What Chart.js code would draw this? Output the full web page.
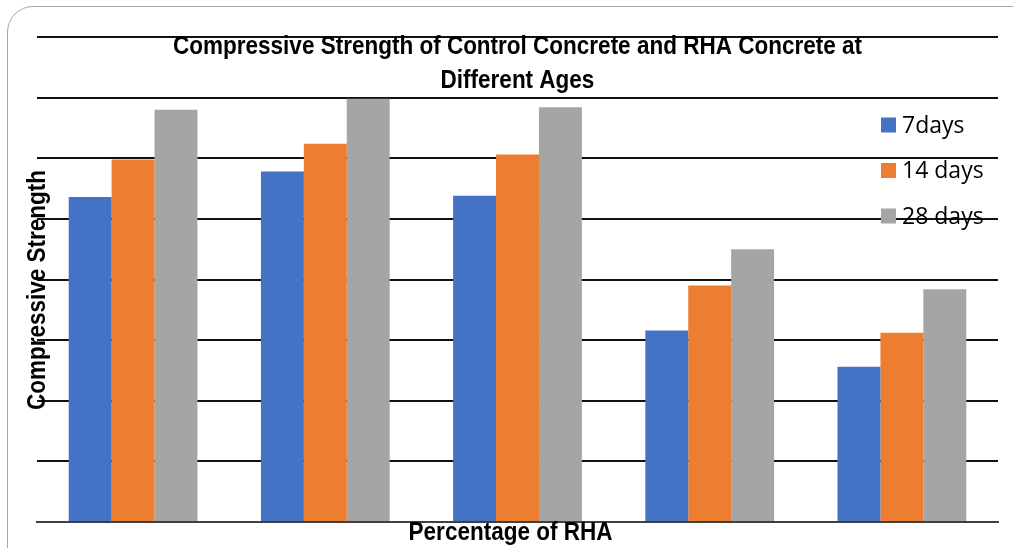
<!DOCTYPE html>
<html>
<head>
<meta charset="utf-8">
<script src="https://cdn.jsdelivr.net/npm/chart.js@4.4.0/dist/chart.umd.min.js"></script>
<style>
  body { margin: 0; background: #fff; }
  #wrap { position: relative; width: 1013px; height: 548px; overflow: hidden; }
  #frame { position: absolute; left: 7px; top: 6px; width: 1040px; height: 570px;
           border: 1px solid #a6a6a6; border-radius: 26px; pointer-events: none; }
</style>
</head>
<body>
<div id="wrap">
  <canvas id="myChart" width="1013" height="548"></canvas>
  <div id="frame"></div>
</div>
<script>
// values (MPa, axis runs 0..40)
const categories = ['0%', '5%', '10%', '15%', '20%'];
const days7 = [26.8, 28.9, 26.9, 15.8, 12.8];
const days14 = [29.9, 31.2, 30.3, 19.5, 15.6];
const days28 = [34.0, 34.9, 34.2, 22.5, 19.2];
const seriesNames = ['7days', '14 days', '28 days'];
const titleLines = ['Compressive Strength of Control Concrete and RHA Concrete at', 'Different Ages'];
const yTitle = 'Compressive Strength';
const xTitle = 'Percentage of RHA';

const boldFont = "bold 25px 'Liberation Sans', sans-serif";
const squeeze = 0.9; // the original uses a condensed bold face

// draws text a bit narrower, centred on x,y
function narrowText(c, text, x, y) {
    c.save();
    c.translate(x, y);
    c.scale(squeeze, 1);
    c.fillText(text, 0, 0);
    c.restore();
}

// title, axis titles and legend sit inside the plot like in the original
const overlayText = {
    id: 'overlayText',
    afterDraw(chart) {
        const c = chart.ctx;
        const area = chart.chartArea;
        c.save();
        c.fillStyle = '#000';
        c.font = boldFont;
        c.textAlign = 'center';
        c.textBaseline = 'middle';
        const cx = (area.left + area.right) / 2;
        narrowText(c, titleLines[0], cx, 47);
        narrowText(c, titleLines[1], cx, 81);
        narrowText(c, xTitle, cx - 7, 533);

        c.save();
        c.translate(38, 290);
        c.rotate(-Math.PI / 2);
        narrowText(c, yTitle, 0, 0);
        c.restore();

        // legend
        c.font = "23px 'Open Sans', sans-serif";
        c.textAlign = 'left';
        chart.data.datasets.forEach((ds, i) => {
            const y = 125 + i * 45.5;
            c.fillStyle = ds.backgroundColor;
            c.fillRect(881, y - 7.5, 15, 15);
            c.fillStyle = '#000';
            c.fillText(ds.label, 902, y + 1);
        });
        c.restore();
    }
};

const ctx = document.getElementById('myChart').getContext('2d');
const myChart = new Chart(ctx, {
    type: 'bar',
    data: {
        labels: categories,
        datasets: [
            { label: seriesNames[0], data: days7, backgroundColor: '#4472C4' },
            { label: seriesNames[1], data: days14, backgroundColor: '#ED7D31' },
            { label: seriesNames[2], data: days28, backgroundColor: '#A5A5A5' }
        ]
    },
    options: {
        responsive: false,
        animation: false,
        layout: { padding: { left: 37, right: 15, top: 37, bottom: 26 } },
        datasets: {
            bar: { categoryPercentage: 0.67, barPercentage: 1.0 }
        },
        plugins: {
            legend: { display: false },
            title: { display: false },
            tooltip: { enabled: false }
        },
        scales: {
            x: {
                ticks: { display: false },
                grid: { display: false, drawTicks: false },
                border: { display: true, color: '#404040', width: 2 }
            },
            y: {
                min: 0,
                max: 40,
                ticks: { display: false, stepSize: 5 },
                grid: { color: '#111', lineWidth: 2, drawTicks: false },
                border: { display: false }
            }
        }
    },
    plugins: [overlayText]
});
</script>
</body>
</html>
